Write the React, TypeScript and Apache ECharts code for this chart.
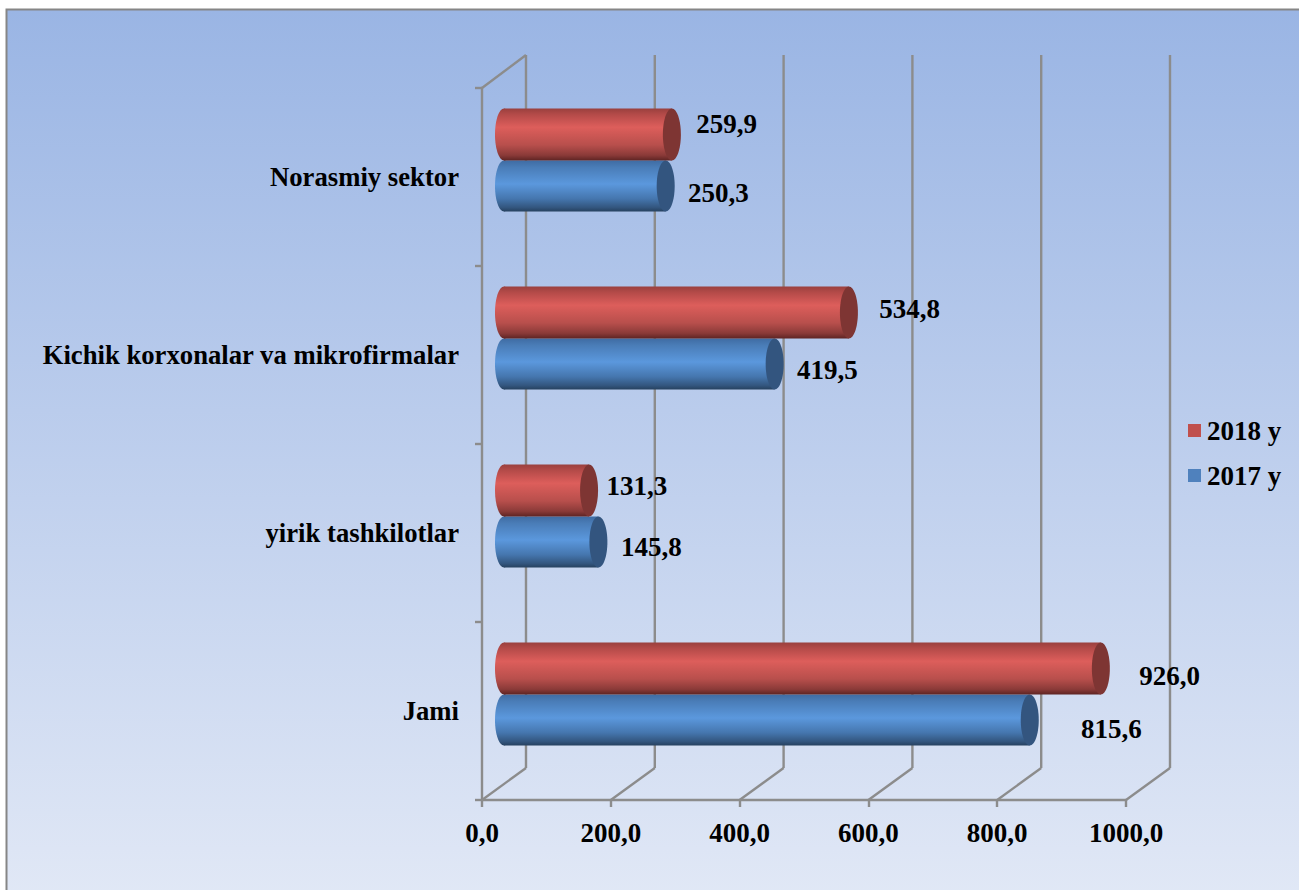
import React, { useEffect, useRef } from "react";
import * as echarts from "echarts";

const categories = ["Jami", "yirik tashkilotlar", "Kichik korxonalar va mikrofirmalar", "Norasmiy sektor"];
const values2018 = [926.0, 131.3, 534.8, 259.9];
const values2017 = [815.6, 145.8, 419.5, 250.3];
const xTicks = [0, 200, 400, 600, 800, 1000];

// Hand-placed data label offsets, px from the bar's value position
const labelDx2018 = [91.2, 70.2, 83.2, 77.2];
const labelDy2018 = [-35, -47, -46, -53];
const labelDx2017 = [104.2, 75.4, 75.2, 75.2];
const labelDy2017 = [18, 14, 15, 16];

const FONT = '"Liberation Serif", "Times New Roman", serif';
const LINE = "#8c8c8c";
const LINE_W = 2.4;
const DEPTH_X = 44;
const DEPTH_Y = -32;
const CAP_RX = 9;

const fmt = (v: number) => v.toFixed(1).replace(".", ",");

const grad = (stops: [number, string][]) =>
  new echarts.graphic.LinearGradient(0, 0, 0, 1, stops.map(([offset, color]) => ({ offset, color })));

function cylinder(
  stops: [number, string][],
  capColor: string,
  above: boolean,
  dxs: number[],
  dys: number[]
) {
  return (params: any, api: any) => {
    const v = api.value(0);
    const c = api.value(1);
    const start = api.coord([0, c]);
    const end = api.coord([v, c]);
    const cy = end[1] + DEPTH_Y / 2;
    const barH = above ? 52 : 51;
    const top = above ? cy - barH - 0.5 : cy - 0.5;
    const x0 = start[0] + DEPTH_X / 2;
    const x1 = end[0] + DEPTH_X / 2 + 0.5;
    const midY = top + barH / 2;
    const i = params.dataIndex;
    return {
      type: "group",
      children: [
        { type: "ellipse", shape: { cx: x0, cy: midY, rx: CAP_RX, ry: barH / 2 }, style: { fill: grad(stops) } },
        { type: "rect", shape: { x: x0, y: top, width: x1 - x0, height: barH }, style: { fill: grad(stops) } },
        { type: "ellipse", shape: { cx: x1, cy: midY, rx: CAP_RX, ry: barH / 2 }, style: { fill: capColor } },
        {
          type: "text",
          z2: 50,
          style: {
            x: end[0] + dxs[i],
            y: end[1] + dys[i],
            text: fmt(v),
            fill: "#000",
            font: `bold 27px ${FONT}`,
            align: "center",
            verticalAlign: "middle",
          },
        },
      ],
    };
  };
}

const wallRender = (_p: any, api: any) => {
  const t = api.value(0);
  const x = api.coord([t, 0])[0];
  const band = api.size([0, 1])[1];
  const bottom = api.coord([0, 0])[1] + band / 2;
  const topY = api.coord([0, categories.length - 1])[1] - band / 2;
  const base = { stroke: LINE, lineWidth: LINE_W, fill: "none" };
  const children: any[] = [
    { type: "line", shape: { x1: x, y1: bottom, x2: x + DEPTH_X, y2: bottom + DEPTH_Y }, style: base },
    { type: "line", shape: { x1: x + DEPTH_X, y1: bottom + DEPTH_Y, x2: x + DEPTH_X, y2: topY + DEPTH_Y - 1 }, style: base },
  ];
  if (t === 0) {
    children.push({ type: "line", shape: { x1: x, y1: topY, x2: x + DEPTH_X, y2: topY + DEPTH_Y - 1 }, style: base });
  }
  return { type: "group", children };
};

const redStops: [number, string][] = [
  [0, "#9a403e"],
  [0.12, "#b54b49"],
  [0.36, "#dd5e5b"],
  [0.7, "#b84f4c"],
  [0.9, "#8a3a38"],
  [1, "#5e2423"],
];
const blueStops: [number, string][] = [
  [0, "#3f6ca3"],
  [0.14, "#4a7db8"],
  [0.46, "#5b98dd"],
  [0.75, "#4576ae"],
  [0.92, "#33567f"],
  [1, "#26415f"],
];

export default function App() {
  const ref = useRef<HTMLDivElement>(null);
  useEffect(() => {
    document.body.style.margin = "0";
    document.body.style.overflow = "hidden";
    const chart = echarts.init(ref.current!, undefined, { renderer: "svg" });
    chart.setOption({
      animation: false,
      backgroundColor: "#ffffff",
      graphic: [
        {
          type: "rect",
          z: -10,
          silent: true,
          shape: { x: 6.5, y: 9.5, width: 1300, height: 890 },
          style: {
            fill: new echarts.graphic.LinearGradient(0, 0, 0, 1, [
              { offset: 0, color: "#9ab5e4" },
              { offset: 1, color: "#e1e8f6" },
            ]),
            stroke: "#868686",
            lineWidth: 2,
          },
        },
      ],
      grid: { left: 482, top: 88, width: 644, height: 712, containLabel: false },
      legend: {
        data: ["2018 y", "2017 y"],
        orient: "vertical",
        left: 1183,
        top: 412,
        itemWidth: 13,
        itemHeight: 13,
        itemGap: 18,
        icon: "rect",
        textStyle: { fontFamily: FONT, fontWeight: "bold", fontSize: 27, color: "#000", padding: [0, 0, 0, 1] },
      },
      xAxis: {
        type: "value",
        min: 0,
        max: 1000,
        interval: 200,
        splitLine: { show: false },
        axisLine: { show: true, lineStyle: { color: LINE, width: LINE_W } },
        axisTick: { show: true, length: 7, lineStyle: { color: LINE, width: LINE_W } },
        axisLabel: {
          margin: 19,
          fontFamily: FONT,
          fontWeight: "bold",
          fontSize: 27,
          color: "#000",
          customValues: xTicks,
          formatter: (v: number) => fmt(v),
        },
      },
      yAxis: {
        type: "category",
        data: categories,
        axisLine: { show: true, lineStyle: { color: LINE, width: LINE_W } },
        axisTick: { show: true, length: 7, lineStyle: { color: LINE, width: LINE_W } },
        axisLabel: { margin: 23, fontFamily: FONT, fontWeight: "bold", fontSize: 26.7, color: "#000" },
      },
      series: [
        {
          type: "custom",
          name: "walls",
          z: 1,
          silent: true,
          clip: false,
          renderItem: wallRender,
          encode: { x: 0 },
          data: xTicks.map((t) => [t]),
        },
        {
          type: "custom",
          name: "2017 y",
          z: 2,
          silent: true,
          clip: false,
          itemStyle: { color: "#4f81bd" },
          encode: { x: 0, y: 1 },
          renderItem: cylinder(blueStops, "#33557f", false, labelDx2017, labelDy2017),
          data: values2017.map((v, i) => [v, i]),
        },
        {
          type: "custom",
          name: "2018 y",
          z: 3,
          silent: true,
          clip: false,
          itemStyle: { color: "#c0504d" },
          encode: { x: 0, y: 1 },
          renderItem: cylinder(redStops, "#7e3533", true, labelDx2018, labelDy2018),
          data: values2018.map((v, i) => [v, i]),
        },
      ],
    });
    return () => chart.dispose();
  }, []);
  return <div ref={ref} style={{ position: "absolute", left: 0, top: 0, width: 1299, height: 890 }} />;
}
